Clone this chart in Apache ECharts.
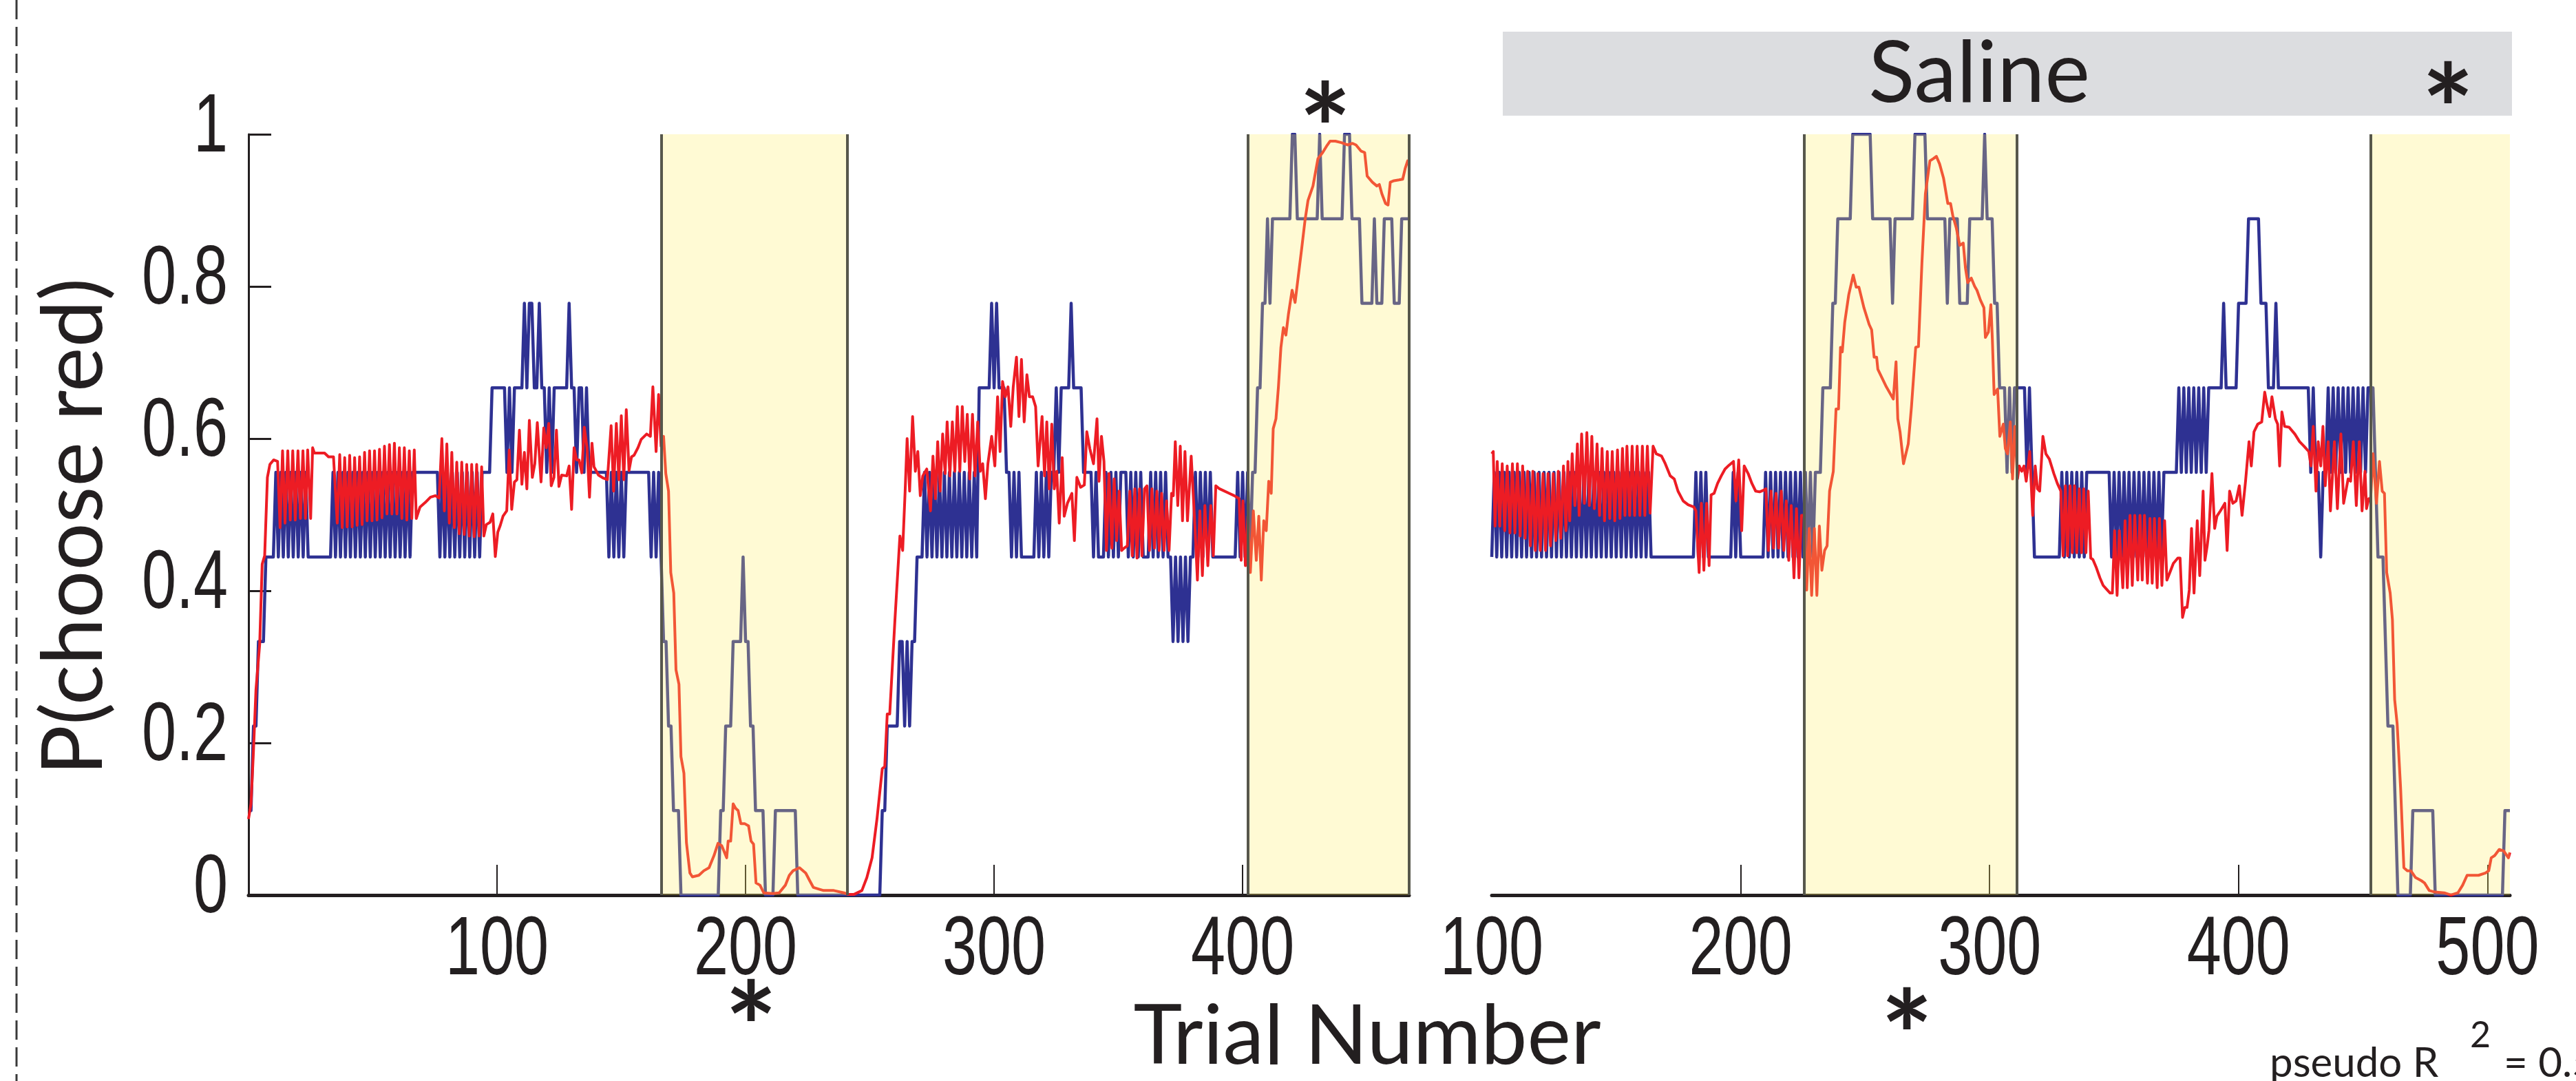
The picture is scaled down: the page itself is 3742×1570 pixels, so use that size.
<!DOCTYPE html>
<html>
<head>
<meta charset="utf-8">
<script src="https://cdn.jsdelivr.net/npm/echarts@6/dist/echarts.min.js"></script>
<style>
  html, body { margin: 0; padding: 0; background: #fff; }
  #chart { width: 3742px; height: 1570px; }
</style>
</head>
<body>
<div id="chart"></div>
<script>
// trial ranges of the two panels
const leftRange = [0, 467]
const rightRange = [100, 509]

// blue: observed fraction of red choices, one digit per trial = ninths (k/9)
const leftBlueLevels = [
  '1122333444', '4545454545', '4545444444', '4444545454', '5454545454', // 0-49
  '5454545454', '5454545555', '5555555454', '5454545454', '5454555566', // 50-99
  '6666565666', '6767766766', '5656666667', '6656656555', '5555545454', // 100-149
  '5455555555', '5545454332', '2111000000', '0000000000', '1122233334', // 150-199
  '3322111100', '0011111111', '1000000000', '0000000000', '0000000000', // 200-249
  '0000011222', '2233232334', '4454545454', '5454545454', '5454666667', // 250-299
  '6766655454', '5444444545', '4545565666', '6766665555', '4544454545', // 300-349
  '4555454545', '4445454545', '4434343434', '4545454544', '4444444454', // 350-399
  '5454556677', '8788888888', '9988888888', '8988888888', '8999888877', // 400-449
  '7778777888', '87778888'                                              // 450-467
].join('')

const rightBlueLevels = [
  '4545454545', '4545454545', '4545454545', '4545454545', '4545454545', // 100-149
  '4545454545', '4545444444', '4444444444', '4454545444', '4444444545', // 150-199
  '4444444444', '5454545454', '5454545454', '5556666778', '8888899999', // 200-249
  '9998888888', '8788888888', '9999988888', '8887888877', '7788888898', // 250-299
  '8877666565', '6666656544', '4444444445', '4545454545', '5555555554', // 300-349
  '5454545454', '5454545454', '5555556565', '6565656566', '6666766666', // 350-399
  '7777888887', '7766676666', '6666666665', '6554556565', '6565656565', // 400-449
  '6566654443', '2221000000', '1111111110', '0000000000', '0000000000', // 450-499
  '0000000111'                                                          // 500-509
].join('')

// red: model prediction, [trial, P(choose red)]
const leftRed = [
  [0, 0.10], [1, 0.12], [2, 0.19], [3, 0.27], [4.5, 0.33], [5.5, 0.435], [6.5, 0.446], [7.6, 0.549],
  [8.6, 0.566], [10.1, 0.572], [11.7, 0.570], [12.7, 0.483], [13.7, 0.584], [14.7, 0.489], [15.8, 0.584],
  [16.8, 0.493], [17.8, 0.584], [18.8, 0.493], [19.9, 0.584], [20.9, 0.495], [21.9, 0.584], [22.9, 0.495],
  [23.8, 0.585], [25.0, 0.495], [25.8, 0.588], [26.5, 0.581], [30.6, 0.581], [32.2, 0.576], [34.2, 0.576],
  [35.7, 0.489], [36.7, 0.579], [37.7, 0.483], [38.7, 0.575], [39.7, 0.484], [40.7, 0.578], [41.7, 0.484],
  [42.7, 0.575], [43.7, 0.486], [44.7, 0.576], [45.7, 0.487], [46.7, 0.582], [47.7, 0.492], [48.7, 0.584],
  [49.7, 0.492], [50.7, 0.584], [51.7, 0.493], [52.7, 0.586], [53.7, 0.496], [54.7, 0.590], [55.7, 0.501],
  [56.7, 0.592], [57.7, 0.501], [58.7, 0.594], [59.7, 0.501], [60.7, 0.588], [61.7, 0.495], [62.7, 0.588],
  [63.7, 0.493], [64.7, 0.584], [65.7, 0.495], [66.7, 0.585], [67.5, 0.495], [69, 0.510], [71.1, 0.516],
  [73.2, 0.523], [75.2, 0.525], [76.7, 0.522], [77.8, 0.600], [78.8, 0.505], [79.8, 0.593], [80.8, 0.489],
  [81.8, 0.582], [82.8, 0.483], [83.8, 0.569], [84.8, 0.475], [85.8, 0.569], [86.8, 0.474], [87.8, 0.566],
  [88.8, 0.472], [89.8, 0.566], [90.8, 0.471], [91.8, 0.566], [92.8, 0.472], [93.8, 0.563], [94.7, 0.472],
  [95.7, 0.487], [97.2, 0.490], [98.3, 0.501], [99.3, 0.445], [100.3, 0.477], [101.3, 0.486], [102.4, 0.498],
  [103.9, 0.505], [104.9, 0.585], [105.9, 0.507], [107, 0.543], [108, 0.546], [109, 0.611], [110, 0.540],
  [111, 0.582], [112, 0.534], [113, 0.624], [114.2, 0.549], [115.2, 0.567], [116.2, 0.621], [117.7, 0.543],
  [118.8, 0.614], [119.8, 0.588], [120.8, 0.620], [121.8, 0.538], [122.9, 0.549], [123.9, 0.611], [124.9, 0.537],
  [126, 0.552], [128, 0.551], [129, 0.564], [130, 0.507], [131, 0.588], [132, 0.572], [133, 0.572],
  [134.1, 0.555], [135.1, 0.615], [136.2, 0.588], [137.2, 0.523], [138.2, 0.594], [139, 0.563], [140.8, 0.552],
  [142.8, 0.548], [144.4, 0.546], [145.9, 0.617], [146.9, 0.531], [148, 0.620], [149, 0.546], [150, 0.630],
  [151, 0.546], [152, 0.638], [153.1, 0.558], [154.1, 0.576], [155.1, 0.578], [156.7, 0.588], [158, 0.599],
  [160.2, 0.606], [161.7, 0.603], [162.7, 0.668], [164, 0.583], [165, 0.658], [166, 0.590], [167, 0.603],
  [167.9, 0.554], [169, 0.531], [169.9, 0.424], [171.1, 0.397], [172, 0.296], [173.2, 0.277], [174, 0.182],
  [175.2, 0.160], [176.2, 0.069], [177.6, 0.029], [178.6, 0.024], [181.2, 0.026], [183.2, 0.032], [185.3, 0.036],
  [187.3, 0.052], [188.9, 0.068], [190.4, 0.065], [192.4, 0.049], [193, 0.071], [194, 0.071], [195, 0.120],
  [196, 0.114], [197, 0.111], [198.1, 0.094], [199.6, 0.094], [201.2, 0.091], [202.2, 0.071], [203.2, 0.067],
  [204.2, 0.016], [205.8, 0.013], [207.3, 0.003], [210.9, 0.002], [213.5, 0.003], [216, 0.013], [217.6, 0.026],
  [219.1, 0.032], [221.7, 0.036], [224.2, 0.029], [225.8, 0.019], [227.3, 0.010], [229.3, 0.008], [231.4, 0.006],
  [235.5, 0.006], [239.6, 0.003], [241.1, 0.001], [243.7, 0.001], [246.8, 0.006], [248.8, 0.023], [250.9, 0.049],
  [252.9, 0.101], [255, 0.166], [256, 0.169], [257, 0.238], [258, 0.238], [260.1, 0.362], [262.1, 0.472],
  [263.2, 0.453], [264.2, 0.531], [265, 0.600], [266, 0.531], [267.2, 0.629], [268.3, 0.557], [269.3, 0.583],
  [270.3, 0.525], [271.3, 0.551], [272.9, 0.560], [274.4, 0.505], [275.4, 0.577], [276.4, 0.521], [277.3, 0.596],
  [278.3, 0.531], [279.3, 0.606], [280.3, 0.554], [281.1, 0.622], [282.2, 0.551], [283.2, 0.622], [284.2, 0.557],
  [285.2, 0.642], [286.2, 0.557], [287.2, 0.642], [288.2, 0.570], [289.2, 0.632], [290.2, 0.547], [291.3, 0.632],
  [292.3, 0.551], [293.4, 0.622], [294.4, 0.557], [295.4, 0.567], [296.5, 0.521], [297.5, 0.567], [299, 0.603],
  [300.3, 0.564], [301.4, 0.655], [302.4, 0.583], [303.4, 0.675], [304.5, 0.655], [305.6, 0.668], [306.7, 0.616],
  [307.7, 0.668], [309, 0.707], [310, 0.629], [311, 0.704], [312.1, 0.622], [313.2, 0.684], [314.2, 0.655],
  [315.5, 0.655], [316.7, 0.642], [317.7, 0.564], [319.3, 0.629], [320.3, 0.551], [321.2, 0.622], [322.2, 0.534],
  [323.2, 0.619], [324.2, 0.534], [325.2, 0.557], [326.2, 0.489], [327.4, 0.575], [328.2, 0.498], [329.5, 0.515],
  [331.3, 0.528], [332.3, 0.466], [333.3, 0.549], [334.8, 0.536], [336.3, 0.539], [337.3, 0.609], [338.5, 0.587],
  [340, 0.567], [341.4, 0.626], [342.2, 0.544], [343.2, 0.603], [344.2, 0.570], [345.2, 0.453], [346.2, 0.554],
  [347.4, 0.456], [348.3, 0.547], [349.3, 0.466], [350.3, 0.531], [351.3, 0.453], [352.3, 0.456], [353.6, 0.459],
  [354.6, 0.531], [355.6, 0.446], [356.6, 0.534], [357.5, 0.443], [358.5, 0.534], [359.5, 0.446], [360.5, 0.534],
  [361.5, 0.538], [362.5, 0.453], [363.5, 0.534], [364.5, 0.456], [365.5, 0.531], [366.4, 0.453], [367.4, 0.528],
  [368.4, 0.453], [369.4, 0.518], [370.4, 0.453], [371.4, 0.528], [372.1, 0.525], [372.9, 0.596], [373.9, 0.512],
  [374.9, 0.590], [375.8, 0.492], [376.8, 0.583], [377.8, 0.492], [379.3, 0.577], [380.8, 0.485], [381.8, 0.414],
  [382.8, 0.505], [383.8, 0.420], [384.8, 0.512], [386, 0.433], [387.2, 0.512], [388.2, 0.446], [389.2, 0.538],
  [390.7, 0.534], [394.6, 0.528], [396.6, 0.525], [398.6, 0.521], [399.4, 0.440], [400.1, 0.518], [401.1, 0.433],
  [402.1, 0.498], [403.1, 0.424], [404.3, 0.505], [405.5, 0.440], [406.5, 0.498], [407.5, 0.414], [408.5, 0.492],
  [409.5, 0.479], [410.5, 0.544], [411.5, 0.528], [412.3, 0.613], [413.4, 0.626], [414.4, 0.668], [415.4, 0.720],
  [416.4, 0.746], [417.4, 0.736], [418.4, 0.763], [419.9, 0.795], [421.1, 0.779], [422.3, 0.811], [423.8, 0.851],
  [425.1, 0.887], [426.3, 0.913], [428.3, 0.932], [430.3, 0.968], [432.2, 0.976], [433.7, 0.984], [435.2, 0.991],
  [437.3, 0.991], [439.7, 0.989], [442.2, 0.986], [444.2, 0.988], [445.6, 0.986], [447.6, 0.978], [449.1, 0.976],
  [450.1, 0.945], [452.2, 0.937], [454, 0.932], [455, 0.934], [456, 0.922], [457.5, 0.909], [458.5, 0.907],
  [459.4, 0.937], [460.9, 0.939], [462.9, 0.940], [464.4, 0.941], [465.4, 0.955], [466.4, 0.965], [467, 0.963]
]

const rightRed = [
  [100, 0.58], [100.6, 0.583], [101.3, 0.485], [102.2, 0.570], [103.2, 0.485], [104.2, 0.567], [105.2, 0.479],
  [106.2, 0.564], [107.3, 0.476], [108.3, 0.567], [109.3, 0.476], [110.3, 0.567], [111.4, 0.472], [112.4, 0.564],
  [113.4, 0.469], [114.4, 0.557], [115.5, 0.459], [116.5, 0.557], [117.5, 0.453], [118.5, 0.554], [119.5, 0.453],
  [120.6, 0.554], [121.6, 0.453], [122.6, 0.554], [123.6, 0.459], [124.7, 0.554], [125.7, 0.466], [126.7, 0.557],
  [127.7, 0.469], [128.8, 0.564], [129.8, 0.479], [130.6, 0.570], [131.3, 0.492], [132.3, 0.580], [133.4, 0.512],
  [134.4, 0.593], [135.1, 0.499], [136.1, 0.606], [137.2, 0.515], [138.2, 0.608], [139.2, 0.512], [140.2, 0.603],
  [141.2, 0.508], [142.3, 0.593], [143.3, 0.499], [144.3, 0.587], [145.3, 0.492], [146.4, 0.583], [147.4, 0.495],
  [148.4, 0.583], [149.4, 0.492], [150.5, 0.585], [151.5, 0.495], [152.5, 0.587], [153.5, 0.499], [154.3, 0.590],
  [155.4, 0.499], [156.4, 0.590], [157.4, 0.499], [158.4, 0.590], [159.5, 0.499], [160.5, 0.590], [161.5, 0.499],
  [162.5, 0.590], [163.6, 0.502], [164.8, 0.590], [166.1, 0.580], [168.2, 0.577], [169.7, 0.567], [171.7, 0.551],
  [173.3, 0.547], [174.8, 0.531], [176.9, 0.518], [178.9, 0.513], [181.2, 0.510], [182, 0.505], [183.3, 0.424],
  [184.2, 0.515], [185.2, 0.427], [186.3, 0.515], [187.3, 0.433], [188.1, 0.526], [189.3, 0.528], [190.7, 0.541],
  [192.2, 0.551], [193.7, 0.560], [195.3, 0.565], [197.1, 0.570], [198.1, 0.518], [199.2, 0.572], [200.4, 0.479],
  [201.4, 0.564], [203, 0.554], [204.5, 0.541], [206, 0.531], [207.6, 0.530], [209.1, 0.532], [210.1, 0.534],
  [211.1, 0.453], [212.2, 0.531], [213.2, 0.456], [214.2, 0.528], [215.2, 0.456], [216.3, 0.531], [217.3, 0.453],
  [218.3, 0.518], [219.3, 0.440], [220.3, 0.512], [221.4, 0.417], [222.4, 0.508], [223.4, 0.417], [224.4, 0.499],
  [225.5, 0.499], [226.5, 0.401], [227.5, 0.482], [228.5, 0.394], [229.6, 0.482], [230.6, 0.394], [231.6, 0.485],
  [232.6, 0.427], [233.7, 0.453], [234.7, 0.459], [235.7, 0.531], [237.2, 0.557], [238.3, 0.639], [239.3, 0.639],
  [240.1, 0.720], [240.8, 0.714], [241.8, 0.753], [243.4, 0.789], [245.2, 0.815], [246.4, 0.799], [247.5, 0.799],
  [249.5, 0.772], [251.6, 0.750], [252.6, 0.743], [253.6, 0.707], [254.6, 0.707], [255.1, 0.691], [258.5, 0.668],
  [261.3, 0.652], [262.4, 0.701], [263.1, 0.626], [264, 0.609], [265.4, 0.567], [267.3, 0.593], [268.6, 0.642],
  [270.3, 0.720], [271.4, 0.721], [272.8, 0.831], [274.2, 0.922], [276, 0.965], [277.4, 0.968], [278.6, 0.971],
  [279.9, 0.961], [281.5, 0.942], [283.2, 0.909], [284.3, 0.909], [285.2, 0.893], [286.6, 0.877], [288, 0.854],
  [289.4, 0.857], [290.3, 0.824], [291.2, 0.805], [292.6, 0.811], [294, 0.800], [294.9, 0.795], [296.3, 0.782],
  [297.7, 0.772], [298.3, 0.733], [299.5, 0.740], [300.5, 0.776], [301.1, 0.730], [301.8, 0.658], [303.2, 0.665],
  [304.1, 0.603], [305.5, 0.619], [306.3, 0.587], [307.2, 0.580], [308.3, 0.622], [309.2, 0.547], [310.1, 0.616],
  [311.2, 0.547], [311.9, 0.564], [312.9, 0.557], [313.8, 0.564], [314.7, 0.544], [316.1, 0.583], [317.3, 0.499],
  [318.3, 0.564], [319.2, 0.534], [320.1, 0.531], [321.4, 0.603], [322.6, 0.580], [324, 0.573], [325.8, 0.554],
  [327.2, 0.541], [328.6, 0.531], [329.5, 0.446], [330.4, 0.538], [331.3, 0.446], [332.3, 0.538], [333.2, 0.450],
  [334.1, 0.538], [335, 0.450], [336, 0.534], [336.9, 0.450], [337.8, 0.534], [338.7, 0.450], [339.6, 0.531],
  [340.6, 0.443], [341.5, 0.441], [342.9, 0.430], [344.3, 0.417], [345.6, 0.407], [347, 0.402], [348.4, 0.397],
  [349.3, 0.397], [350.2, 0.479], [351.2, 0.394], [352.1, 0.479], [353.5, 0.404], [354.4, 0.492], [355.3, 0.404],
  [356.4, 0.499], [357.3, 0.407], [358.3, 0.499], [359.5, 0.414], [360.4, 0.499], [361.3, 0.414], [362.2, 0.499],
  [363.4, 0.410], [364.4, 0.495], [365.3, 0.410], [366.2, 0.495], [367.3, 0.404], [368.2, 0.495], [369.2, 0.407],
  [370.3, 0.492], [371.2, 0.414], [372.4, 0.424], [373.8, 0.436], [375.6, 0.443], [376.5, 0.443], [377.5, 0.365],
  [378.4, 0.378], [379.3, 0.378], [380.2, 0.401], [381.1, 0.482], [382.1, 0.397], [383.4, 0.492], [384.4, 0.420],
  [385.75, 0.531], [386.5, 0.440], [387.4, 0.459], [388.1, 0.479], [389.3, 0.554], [390.4, 0.482], [391.3, 0.498],
  [392.7, 0.505], [394.5, 0.515], [395.4, 0.453], [396.4, 0.531], [397.7, 0.515], [399, 0.518], [400.3, 0.538],
  [401.4, 0.499], [402.8, 0.544], [404.2, 0.596], [405.1, 0.564], [406.2, 0.609], [407.7, 0.619], [409.3, 0.622],
  [410.5, 0.661], [411.4, 0.645], [412.5, 0.629], [413.4, 0.655], [414.8, 0.626], [415.7, 0.619], [416.5, 0.564],
  [417.4, 0.635], [418.5, 0.616], [420.3, 0.615], [422.6, 0.606], [424.5, 0.596], [426.3, 0.590], [428.2, 0.583],
  [429.1, 0.564], [430, 0.616], [431.1, 0.531], [432, 0.596], [433, 0.564], [433.9, 0.616], [434.8, 0.538],
  [436, 0.596], [436.9, 0.505], [438.5, 0.596], [439.7, 0.508], [441.1, 0.606], [442.2, 0.515], [443.1, 0.531],
  [444, 0.547], [445, 0.544], [446.1, 0.596], [447.3, 0.512], [448.5, 0.596], [449.6, 0.505], [450.8, 0.557],
  [451.4, 0.508], [452.3, 0.521], [453, 0.518], [454, 0.580], [455.4, 0.515], [456.6, 0.570], [457.7, 0.531],
  [458.6, 0.528], [459.5, 0.424], [460.9, 0.397], [461.8, 0.362], [462.7, 0.257], [463.7, 0.225], [465.1, 0.140],
  [466.4, 0.036], [467.8, 0.032], [469.2, 0.032], [471.1, 0.023], [473.4, 0.019], [474.7, 0.016], [476.6, 0.006],
  [478.9, 0.004], [482.6, 0.003], [485.3, 0.000], [488.1, 0.003], [490, 0.013], [491.8, 0.026], [494.1, 0.026],
  [496.4, 0.026], [499.2, 0.029], [500.5, 0.032], [501.5, 0.049], [502.9, 0.052], [504.7, 0.060], [506.5, 0.058],
  [508.4, 0.049], [509, 0.056]
]

// shaded blocks (trial ranges) and the dark edge lines drawn on them
const leftBands = [[166, 241], [402, 467]]
const rightBands = [[225.5, 311], [453, 509]]
const leftBandEdges = [166, 241, 402, 467]
const rightBandEdges = [225.5, 311, 453]

const leftTicks = [100, 200, 300, 400]
const rightLabels = [100, 200, 300, 400, 500]
const rightTicks = [200, 300, 400, 500]
const yTicks = [0, 0.2, 0.4, 0.6, 0.8, 1]

const ink = '#231f20'
const blue = '#2e3192'
const red = '#ed1c24'
const tickFont = "120px 'Liberation Sans', Arial, sans-serif"
const textFont = "Lato, 'Open Sans', sans-serif"
const tickSquash = 0.75 // the tick digits are a tall condensed face

const toSeries = (levels, start) => levels.split('').map((c, i) => [start + i, Number(c) / 9])

function xAxisFor(gridIndex, range, ticks) {
  return {
    type: 'value',
    gridIndex,
    min: range[0],
    max: range[1],
    axisLine: { show: true, onZero: false, lineStyle: { color: ink, width: 5 } },
    axisTick: { show: true, inside: true, length: 44, customValues: ticks, lineStyle: { color: ink, width: 2 } },
    axisLabel: { show: false },
    splitLine: { show: false }
  }
}

function bandSeries(xi, bands, edges) {
  return {
    type: 'line',
    xAxisIndex: xi,
    yAxisIndex: xi,
    data: [],
    silent: true,
    markArea: {
      silent: true,
      z: 8,
      itemStyle: { color: 'rgba(255, 238, 100, 0.28)' },
      data: bands.map(([a, b]) => [{ xAxis: a }, { xAxis: b }])
    },
    markLine: {
      silent: true,
      z: 9,
      symbol: ['none', 'none'],
      label: { show: false },
      lineStyle: { color: '#57574c', width: 4, type: 'solid' },
      data: edges.map(x => ({ xAxis: x }))
    }
  }
}

function lineSeries(xi, data, color, width, z) {
  return {
    type: 'line',
    xAxisIndex: xi,
    yAxisIndex: xi,
    data,
    showSymbol: false,
    symbol: 'none',
    silent: true,
    z,
    lineStyle: { color, width, join: 'round' }
  }
}

function label(text, x, y, font, align, extra) {
  return Object.assign({
    type: 'text', silent: true, x, y,
    style: { text, font, fill: ink, align, verticalAlign: 'middle', textAlign: align, textVerticalAlign: 'middle' }
  }, extra || {})
}

const chart = echarts.init(document.getElementById('chart'), null, { renderer: 'canvas' })

chart.setOption({
  animation: false,
  backgroundColor: '#fff',
  grid: [
    { left: 361, top: 195, width: 1686, height: 1105 },
    { left: 2167, top: 195, width: 1479, height: 1105 }
  ],
  xAxis: [
    xAxisFor(0, leftRange, leftTicks),
    xAxisFor(1, rightRange, rightTicks)
  ],
  yAxis: [
    {
      type: 'value', gridIndex: 0, min: 0, max: 1, interval: 0.2,
      axisLine: { show: true, lineStyle: { color: ink, width: 3 } },
      axisTick: { show: true, inside: true, length: 33, lineStyle: { color: ink, width: 3 } },
      axisLabel: { show: false },
      splitLine: { show: false }
    },
    { type: 'value', gridIndex: 1, min: 0, max: 1, show: false, splitLine: { show: false } }
  ],
  series: [
    lineSeries(0, toSeries(leftBlueLevels, leftRange[0]), blue, 4.5, 2),
    lineSeries(0, leftRed, red, 4, 3),
    lineSeries(1, toSeries(rightBlueLevels, rightRange[0]), blue, 4.5, 2),
    lineSeries(1, rightRed, red, 4, 3),
    bandSeries(0, leftBands, leftBandEdges),
    bandSeries(1, rightBands, rightBandEdges)
  ]
})

// tick labels in a squashed face, placed through the axes' own scales
const tickLabels = []
const squash = { scaleX: tickSquash }
leftTicks.forEach(v => {
  const [x, y] = chart.convertToPixel({ xAxisIndex: 0, yAxisIndex: 0 }, [v, 0])
  tickLabels.push(label(String(v), x, y + 82, tickFont, 'center', squash))
})
rightLabels.forEach(v => {
  const [x, y] = chart.convertToPixel({ xAxisIndex: 1, yAxisIndex: 1 }, [v, 0])
  tickLabels.push(label(String(v), x, y + 82, tickFont, 'center', squash))
})
yTicks.forEach(v => {
  const [x, y] = chart.convertToPixel({ xAxisIndex: 0, yAxisIndex: 0 }, [0, v])
  tickLabels.push(label(String(v), x - 30, y - 8, tickFont, 'right', squash))
})

chart.setOption({
  graphic: [
    {
      type: 'line', silent: true,
      shape: { x1: 24, y1: 0, x2: 24, y2: 1570 },
      style: { stroke: '#3a3a3a', lineWidth: 3, lineDash: [28, 11] }
    },
    {
      type: 'rect', silent: true,
      shape: { x: 2183, y: 46, width: 1466, height: 122 },
      style: { fill: '#dcdde0' }
    },
    label('Saline', 2875, 108, '124px ' + textFont, 'center'),
    label('P(choose red)', 109, 765, '122px ' + textFont, 'center', { rotation: Math.PI / 2 }),
    label('Trial Number', 1986, 1506, '120px ' + textFont, 'center'),
    ...[[1925, 158], [1091, 1463], [2770, 1475], [3556, 130]].map(([x, y]) =>
      label('*', x, y + 38, 'bold 180px ' + textFont, 'center')),
    label('pseudo R', 3297, 1545, '60px ' + textFont, 'left'),
    label('2', 3588, 1504, '52px ' + textFont, 'left'),
    label('= 0.5', 3637, 1545, '60px ' + textFont, 'left'),
    ...tickLabels
  ]
})
</script>
</body>
</html>
